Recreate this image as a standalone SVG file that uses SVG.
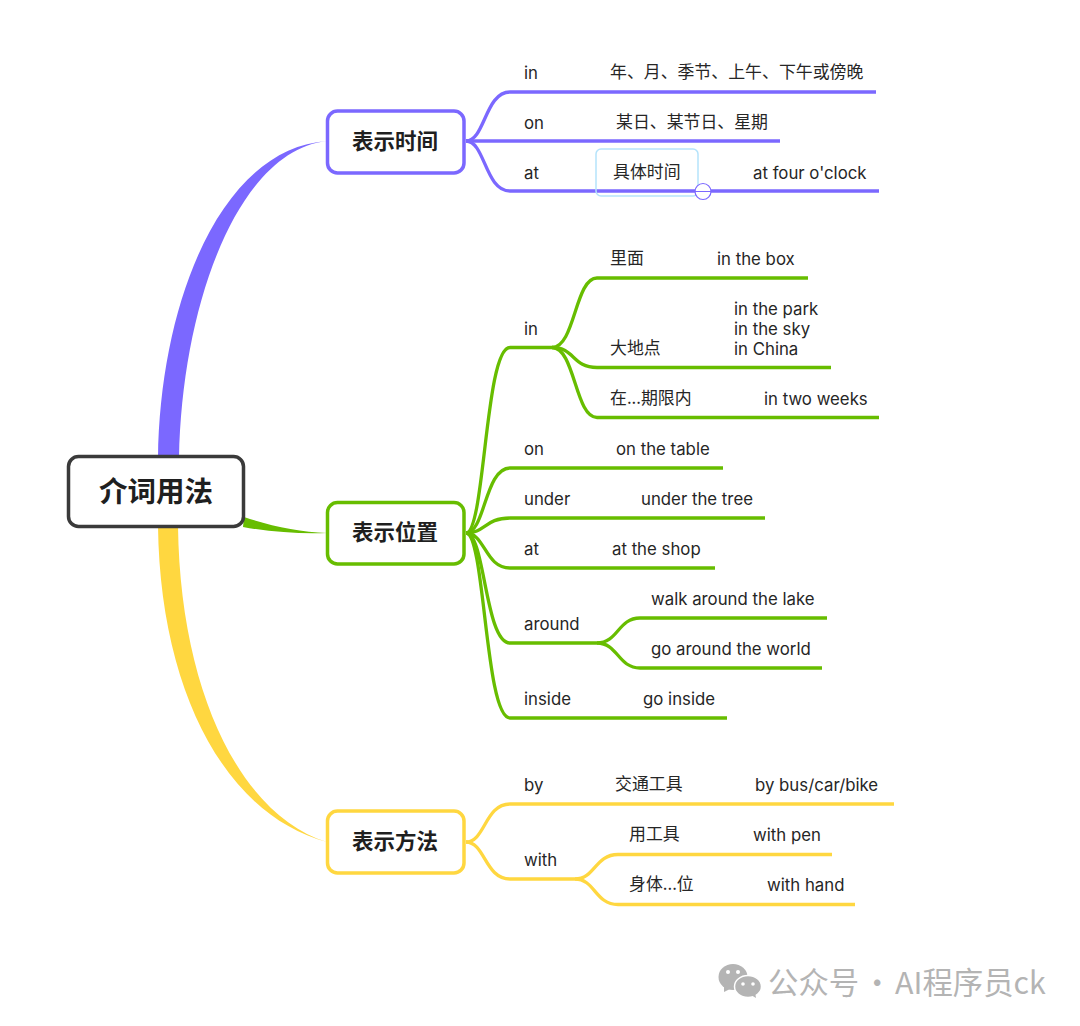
<svg xmlns="http://www.w3.org/2000/svg" width="1080" height="1026" viewBox="0 0 1080 1026">
<style>
text{font-family:"Inter","Noto Sans CJK SC",sans-serif;font-size:16.8px;fill:#262626;transform:translateY(.5px)}
.t{font-size:21.500px;font-weight:700;text-anchor:middle;fill:#1f1f1f;font-family:"Noto Sans CJK SC",sans-serif;transform:none}
.c{font-family:"Noto Sans CJK SC",sans-serif;font-size:16.900px;transform:none}
.b{fill:#fff;stroke-width:3.500}
.p{fill:none;stroke-width:3.300;stroke:#7b68ff}
.g{fill:none;stroke-width:3.300;stroke:#67bd00}
.y{fill:none;stroke-width:3.300;stroke:#ffd740}
</style>
<rect width="1080" height="1026" fill="#fff"/>
<g id="connectors">
<path fill="#7b68ff" d="M158,458C160,300 222,148 327,141C240,150 182,300 179,458Z"/>
<path fill="#ffd740" d="M158,526C160,690 225,815 327,842C240,815 180,690 178,526Z"/>
<path fill="#67bd00" d="M244,517C270,526 300,532 327,533C300,534 270,532 243,527Z"/>
<path class="p" d="M466,141C485,141 485,92 510,92H876"/>
<path class="p" d="M466,141H780"/>
<path class="p" d="M466,141C485,141 485,191 510,191H879"/>
<path class="g" d="M466,533C485,533 485,347.500 510,347.500H552"/>
<path class="g" d="M552,347.500C575,347.500 575,278 597,278H808"/>
<path class="g" d="M552,347.500C575,347.500 572,367.500 597,367.500H831"/>
<path class="g" d="M552,347.500C575,347.500 575,417.500 597,417.500H879"/>
<path class="g" d="M466,533C485,533 485,468 510,468H723"/>
<path class="g" d="M466,533C485,533 485,518 510,518H765"/>
<path class="g" d="M466,533C485,533 485,568 510,568H715"/>
<path class="g" d="M466,533C485,533 485,643 510,643H597"/>
<path class="g" d="M597,643C618,643 618,618 640,618H827"/>
<path class="g" d="M597,643C618,643 618,668 640,668H822"/>
<path class="g" d="M466,533C485,533 485,718 510,718H727"/>
<path class="y" d="M466,842C485,842 485,804 510,804H894"/>
<path class="y" d="M466,842C485,842 485,879 510,879H575"/>
<path class="y" d="M575,879C595,879 595,854.500 618,854.500H832"/>
<path class="y" d="M575,879C595,879 595,904.500 618,904.500H855"/>
</g>
<g id="root"><rect class="b" x="68.500" y="456.500" width="175" height="70" rx="10" stroke="#3a3a3a"/><text class="t" x="156" y="502" style="font-size:28.500px">介词用法</text></g>
<g id="n-time"><rect class="b" x="327.500" y="111" width="136.500" height="62" rx="10" stroke="#7b68ff"/><text class="t" x="395" y="149">表示时间</text></g>
<g id="n-place"><rect class="b" x="327.500" y="502.500" width="136.500" height="61.500" rx="10" stroke="#67bd00"/><text class="t" x="395" y="540">表示位置</text></g>
<g id="n-way"><rect class="b" x="327.500" y="811" width="136.500" height="62" rx="10" stroke="#ffd740"/><text class="t" x="395" y="849">表示方法</text></g>
<g id="t-in"><text x="524" y="78">in</text><text class="c" x="610" y="78">年、月、季节、上午、下午或傍晚</text></g>
<g id="t-on"><text x="524" y="128">on</text><text class="c" x="616" y="128">某日、某节日、星期</text></g>
<g id="t-at"><text x="524" y="178">at</text><rect x="596" y="149" width="102" height="47" rx="5" fill="none" stroke="#b5e3fb" stroke-width="1.500"/><text class="c" x="613" y="178">具体时间</text><text x="753" y="178">at four o'clock</text><circle cx="703" cy="191.500" r="8" fill="#fff" stroke="#7b68ff" stroke-width="1.200"/><path d="M695,191.500H711" stroke="#7b68ff" stroke-width="1"/></g>
<g id="p-in"><text x="524" y="334">in</text></g>
<g id="p-in-1"><text class="c" x="610" y="264">里面</text><text x="717" y="264">in the box</text></g>
<g id="p-in-2"><text class="c" x="610" y="354">大地点</text><text x="734" y="314">in the park</text><text x="734" y="334">in the sky</text><text x="734" y="354">in China</text></g>
<g id="p-in-3"><text class="c" x="610" y="404">在...期限内</text><text x="764" y="404">in two weeks</text></g>
<g id="p-on"><text x="524" y="454">on</text><text x="616" y="454">on the table</text></g>
<g id="p-under"><text x="524" y="504">under</text><text x="641" y="504">under the tree</text></g>
<g id="p-at"><text x="524" y="554">at</text><text x="612" y="554">at the shop</text></g>
<g id="p-around"><text x="524" y="629">around</text><text x="651" y="604">walk around the lake</text><text x="651" y="654">go around the world</text></g>
<g id="p-inside"><text x="524" y="704">inside</text><text x="643" y="704">go inside</text></g>
<g id="w-by"><text x="524" y="790">by</text><text class="c" x="615" y="790">交通工具</text><text x="755" y="790">by bus/car/bike</text></g>
<g id="w-with"><text x="524" y="865">with</text></g>
<g id="w-1"><text class="c" x="629" y="840">用工具</text><text x="753" y="840">with pen</text></g>
<g id="w-2"><text class="c" x="629" y="890">身体...位</text><text x="767" y="890">with hand</text></g>
<g id="watermark" fill="#b4b4b4">
<ellipse cx="733" cy="977" rx="14.500" ry="13"/><path d="M724,985L724,992L732,988Z"/>
<ellipse cx="748" cy="986.500" rx="13.500" ry="11" stroke="#fff" stroke-width="1.500"/><path d="M751,995L756,998L755,992Z"/>
<circle cx="728" cy="972" r="2" fill="#fff"/><circle cx="738" cy="972" r="2" fill="#fff"/><circle cx="743" cy="984" r="1.800" fill="#fff"/><circle cx="753" cy="984" r="1.800" fill="#fff"/>
<text x="768" y="993" style="font-size:30.400px;fill:#b4b4b4;font-family:'Noto Sans CJK SC',sans-serif">公众号<tspan x="862">·</tspan><tspan x="895">AI程序员ck</tspan></text>
</g>
</svg>
